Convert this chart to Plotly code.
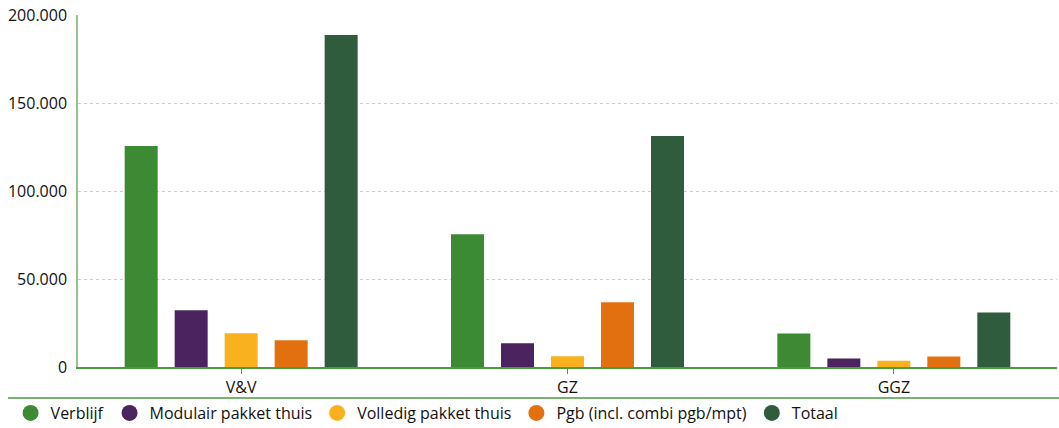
import plotly.graph_objects as go

categories = ["V&V", "GZ", "GGZ"]
series_names = ["Verblijf", "Modulair pakket thuis", "Volledig pakket thuis",
                "Pgb (incl. combi pgb/mpt)", "Totaal"]
verblijf = [125500, 75400, 19000]
modulair = [32200, 13500, 4800]
volledig = [19200, 6100, 3600]
pgb = [15200, 36800, 5900]
totaal = [188600, 131200, 30900]
colors = ["#3c8a34", "#4b235e", "#f9b21e", "#e2700f", "#2f5c3c"]
y_ticks = [0, 50000, 100000, 150000, 200000]

values = [verblijf, modulair, volledig, pgb, totaal]

fig = go.Figure()
for name, vals, col in zip(series_names, values, colors):
    fig.add_trace(go.Bar(x=categories, y=vals, name=name, marker_color=col,
                         marker_line_width=0, showlegend=False))
for name, col in zip(series_names, colors):
    fig.add_trace(go.Scatter(x=[None], y=[None], mode="markers", name=name,
                             marker=dict(symbol="circle", size=16, color=col)))

FONT = "Open Sans"
fig.update_layout(
    width=1059, height=428,
    margin=dict(l=78, r=2, t=15, b=61, autoexpand=False),
    plot_bgcolor="white", paper_bgcolor="white",
    separators=",.",
    barmode="group", bargap=0.234, bargroupgap=0.34,
    font=dict(family=FONT, size=16, color="#111111"),
    legend=dict(orientation="h", xref="container", yref="container",
                x=0.01, y=0.035, xanchor="left", yanchor="middle",
                bgcolor="rgba(0,0,0,0)",
                font=dict(family=FONT, size=16, color="#111111"),
                itemwidth=30, tracegroupgap=0),
    xaxis=dict(showgrid=False, showline=True, linecolor="#4a9a3f", linewidth=1.5,
               ticks="outside", ticklen=5, tickcolor="#4a9a3f", tickwidth=1,
               tickfont=dict(size=16), fixedrange=True, automargin=False),
    yaxis=dict(range=[0, 200000], tickvals=y_ticks, tickformat=",d",
               showgrid=True, gridcolor="#cccccc", griddash="dot", gridwidth=1,
               showline=True, linecolor="#93c58c", linewidth=1.5,
               zeroline=False, ticks="", ticklabelstandoff=6,
               tickfont=dict(size=16), automargin=False),
    shapes=[dict(type="line", xref="paper", yref="paper",
                 x0=(8 - 78) / 979, x1=1.01, y0=-31 / 352, y1=-31 / 352,
                 line=dict(color="#4a9a3f", width=1.5))],
)

fig.write_html("out.html", config={"displayModeBar": False},
               post_script="document.body.style.margin='0';document.body.style.overflow='hidden';")
